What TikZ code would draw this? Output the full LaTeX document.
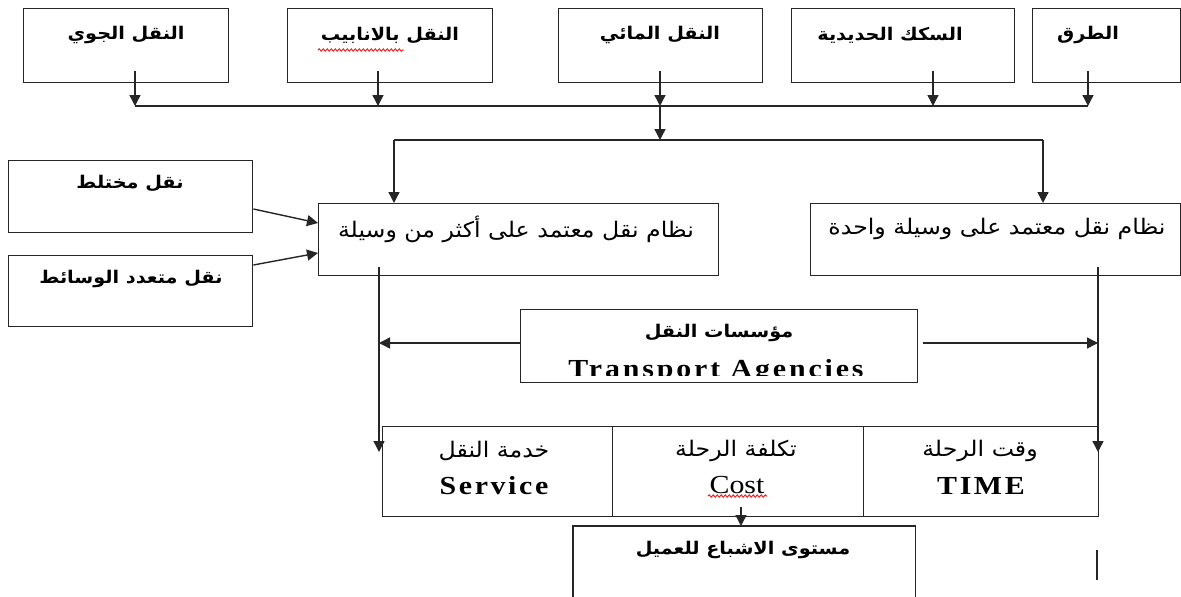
\documentclass[tikz,border=0pt]{standalone}
\usepackage{fontspec}
\setmainfont{Liberation Serif}[FakeStretch=1.15]
\newfontfamily\arab[Script=Arabic,FakeStretch=1.1]{DejaVu Sans}
\TeXXeTstate=1
\usetikzlibrary{arrows.meta,decorations.pathmorphing}
\tikzset{
  box/.style={draw=black!85, line width=1.4pt, rectangle, inner sep=0pt, anchor=north west},
  hidebox/.style={rectangle, inner sep=0pt, anchor=north west},
  lbl/.style={inner sep=0pt, font=\arab\bfseries\fontsize{17.5}{20}\selectfont},
  lblr/.style={inner sep=0pt, font=\arab\fontsize{21.5}{24}\selectfont},
  eng/.style={inner sep=0pt, font=\bfseries\fontsize{26}{28}\selectfont},
  engr/.style={inner sep=0pt, font=\fontsize{26}{28}\selectfont},
  ln/.style={draw=black!85, line width=1.4pt},
  arr/.style={draw=black!85, line width=1.4pt, -{Triangle[length=11pt,width=11pt]}},
  squig/.style={draw=red, line width=0.8pt, decorate, decoration={snake, amplitude=1.2pt, segment length=4pt}}
}
\begin{document}
\begin{tikzpicture}[x=1pt,y=-1pt]
\useasboundingbox[fill=white] (0,0) rectangle (1181,597);
% top row boxes
\node[box, minimum width=205pt, minimum height=74pt] (b1) at (23,8) {};
\node[box, minimum width=205pt, minimum height=74pt] (b2) at (287,8) {};
\node[box, minimum width=204pt, minimum height=74pt] (b3) at (558,8) {};
\node[box, minimum width=223pt, minimum height=74pt] (b4) at (791,8) {};
\node[box, minimum width=148pt, minimum height=74pt] (b5) at (1032,8) {};
\node[lbl] (t1) at (126,35) {\beginR النقل الجوي\endR};
\node[lbl] (t2) at (390,35) {\beginR النقل بالانابيب\endR};
\node[lbl] (t3) at (660,35) {\beginR النقل المائي\endR};
\node[lbl] (t4) at (890,35) {\beginR السكك الحديدية\endR};
\node[lbl] (t5) at (1088,35) {\beginR الطرق\endR};
\draw[squig] (318,50) -- (404,50);
% junction line
\coordinate (s1) at (135,71); \coordinate (j1) at (135,106);
\coordinate (s2) at (378,71); \coordinate (j2) at (378,106);
\coordinate (s3) at (660,71); \coordinate (j3) at (660,106);
\coordinate (s4) at (933,71); \coordinate (j4) at (933,106);
\coordinate (s5) at (1088,71); \coordinate (j5) at (1088,106);
\draw[ln] (j1) -- (j5);
\foreach \i in {1,...,5} {\draw[arr] (s\i) -- (j\i);}
\coordinate (k3) at (660,140);
\coordinate (kl) at (394,140);
\coordinate (kr) at (1043,140);
\draw[arr] (j3) -- (k3);
\draw[ln] (kl) -- (kr);
% middle boxes
\node[box, minimum width=400pt, minimum height=72pt] (mx) at (318,203) {};
\node[box, minimum width=370pt, minimum height=72pt] (sg) at (810,203) {};
\node[lblr] (tmx) at (516,229) {\beginR نظام نقل معتمد على أكثر من وسيلة\endR};
\node[lblr] (tsg) at (997,229) {\beginR نظام نقل معتمد على وسيلة واحدة\endR};
\draw[arr] (kl) -- (kl |- mx.north);
\draw[arr] (kr) -- (kr |- sg.north);
% left boxes
\node[box, minimum width=244pt, minimum height=72pt] (lm) at (8,160) {};
\node[box, minimum width=244pt, minimum height=71pt] (lv) at (8,255) {};
\node[lbl] (tlm) at (130,183) {\beginR نقل مختلط\endR};
\node[lbl] (tlv) at (131,279) {\beginR نقل متعدد الوسائط\endR};
\draw[arr] (lm.east |- 0,209) -- (mx.west |- 0,223);
\draw[arr] (lv.east |- 0,265) -- (mx.west |- 0,253);
% agencies
\node[box, minimum width=397pt, minimum height=73pt] (ag) at (520,309) {};
\node[lbl] (tag) at (719,333) {\beginR مؤسسات النقل\endR};
\begin{scope}
\clip (520,309) rectangle (917,375);
\node[eng, anchor=base] (tage) at (716,377) {\addfontfeature{LetterSpace=11}Transport Agencies};
\end{scope}
% bottom boxes
\node[box, minimum width=230pt, minimum height=90pt] (sv) at (382,426) {};
\node[box, minimum width=251pt, minimum height=90pt] (co) at (612,426) {};
\node[box, minimum width=235pt, minimum height=90pt] (tm) at (863,426) {};
\node[lblr] (tsv) at (494,451) {\beginR خدمة النقل\endR};
\node[lblr] (tco) at (736,451) {\beginR تكلفة الرحلة\endR};
\node[lblr] (ttm) at (980,451) {\beginR وقت الرحلة\endR};
\node[eng, anchor=base] (esv) at (494,494) {\addfontfeature{LetterSpace=10}Service};
\node[engr, anchor=base] (eco) at (737,493) {Cost};
\node[eng, anchor=base] (etm) at (981,494) {\addfontfeature{LetterSpace=10}TIME};
\draw[squig] (708,496) -- (767,496);
% vertical lines from systems
\coordinate (vl0) at (379,267); \coordinate (vl1) at (379,452);
\coordinate (vr0) at (1098,267); \coordinate (vr1) at (1098,452);
\draw[arr] (vl0) -- (vl1);
\draw[arr] (vr0) -- (vr1);
\draw[arr] (ag.west |- 0,343) -- (vl0 |- 0,343);
\coordinate (agr) at (923,343);
\draw[arr] (agr) -- (vr0 |- agr);
% satisfaction
\node[hidebox, minimum width=342pt, minimum height=80pt] (st) at (573,526) {};
\draw[ln] (st.south west) -- (st.north west) -- (st.north east) -- (st.south east);
\node[lbl] (tst) at (743,550) {\beginR مستوى الاشباع للعميل\endR};
\coordinate (cs) at (741,507);
\draw[arr] (cs) -- (cs |- st.north);
% stray mark
\coordinate (m0) at (1097,550); \coordinate (m1) at (1097,580);
\draw[ln] (m0) -- (m1);
\end{tikzpicture}
\end{document}
